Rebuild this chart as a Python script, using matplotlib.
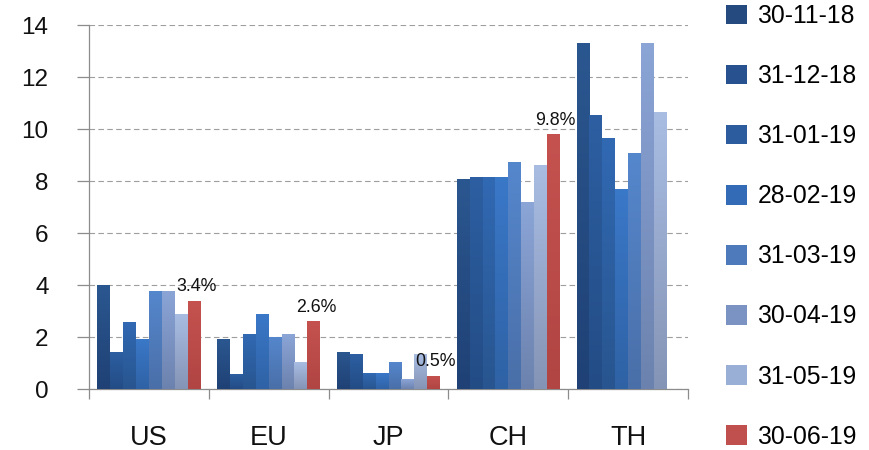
import numpy as np
import matplotlib.pyplot as plt
from matplotlib.colors import LinearSegmentedColormap
from matplotlib.patches import Patch

plt.rcParams['font.family'] = ['Liberation Sans', 'DejaVu Sans']

regions = ['US', 'EU', 'JP', 'CH', 'TH']
dates = ['30-11-18', '31-12-18', '31-01-19', '28-02-19',
         '31-03-19', '30-04-19', '31-05-19', '30-06-19']

s_30_11_18 = [4.00, 1.92, 1.43, 8.08, 13.32]
s_31_12_18 = [1.43, 0.58, 1.35, 8.17, 10.55]
s_31_01_19 = [2.59, 2.10, 0.60, 8.17, 9.65]
s_28_02_19 = [1.92, 2.90, 0.60, 8.17, 7.69]
s_31_03_19 = [3.78, 2.01, 1.03, 8.73, 9.06]
s_30_04_19 = [3.78, 2.10, 0.38, 7.19, 13.32]
s_31_05_19 = [2.90, 1.03, 1.33, 8.63, 10.64]
s_30_06_19 = [3.4, 2.6, 0.5, 9.8, np.nan]

series = [s_30_11_18, s_31_12_18, s_31_01_19, s_28_02_19,
          s_31_03_19, s_30_04_19, s_31_05_19, s_30_06_19]

# (top colour, bottom colour) of each series' vertical gradient fill
shades = [('#2B5790', '#1F4175'),
          ('#2D5FA2', '#234C85'),
          ('#3169B3', '#28558F'),
          ('#3A78C8', '#2F62A5'),
          ('#5587CD', '#4A6FA8'),
          ('#8BA5D7', '#6C82AE'),
          ('#A9BDE3', '#8494B6'),
          ('#C5524F', '#B04543')]
legend_colors = ['#244A80', '#28528F', '#2C5C9E', '#336BB6',
                 '#4E7ABB', '#7A93C2', '#9AAFD6', '#C0504D']

W, H = 869, 450
fig = plt.figure(figsize=(W / 100, H / 100), dpi=100)
ax = fig.add_axes([89 / W, 1 - 389 / H, (688 - 89) / W, (389 - 25) / H])

n = len(series)
width = 0.1075
x = np.arange(len(regions))
grad = np.linspace(0, 1, 256).reshape(-1, 1)

for i, (vals, (top, bot)) in enumerate(zip(series, shades)):
    pos = x + (i - (n - 1) / 2) * width
    bars = ax.bar(pos, vals, width=width, color='none', linewidth=0, zorder=3)
    cmap = LinearSegmentedColormap.from_list(f'g{i}', [bot, top])
    for b, v in zip(bars, vals):
        if np.isnan(v):
            continue
        x0, y0 = b.get_x(), b.get_y()
        im = ax.imshow(grad, extent=[x0, x0 + b.get_width(), y0, y0 + b.get_height()],
                       origin='lower', cmap=cmap, aspect='auto', zorder=3,
                       interpolation='bilinear')
        im.set_clip_path(b)
    if i == n - 1:
        for b, v in zip(bars, vals):
            if np.isnan(v):
                continue
            ax.annotate(f'{v:.1f}%', (b.get_x() + b.get_width() / 2, v),
                        xytext=(1.5, 4), textcoords='offset points',
                        ha='center', va='bottom', fontsize=12.8, color='#111111',
                        zorder=4)

ax.set_xlim(-0.5, len(regions) - 0.5)
ax.set_ylim(0, 14)
ax.set_yticks(np.arange(0, 15, 2))

axis_gray = '#8C8C8C'
ax.yaxis.grid(True, linestyle=(0, (5, 3)), color='#9E9E9E', linewidth=0.8, zorder=0)
ax.set_axisbelow(True)
for side in ('top', 'right'):
    ax.spines[side].set_visible(False)
for side in ('left', 'bottom'):
    ax.spines[side].set_color(axis_gray)
    ax.spines[side].set_linewidth(0.9)

ax.tick_params(axis='y', length=8.6, width=0.9, color=axis_gray, pad=20.5,
               labelsize=17.5, labelcolor='#111111')

# category names at group centres, separator ticks at group boundaries
ax.set_xticks(x)
ax.set_xticklabels(regions)
ax.set_xticks(np.arange(-0.5, len(regions), 1.0), minor=True)
ax.tick_params(axis='x', which='major', length=0, pad=26, labelsize=19.5,
               labelcolor='#111111')
ax.tick_params(axis='x', which='minor', length=7, width=0.9, color=axis_gray,
               direction='out')

handles = [Patch(facecolor=c, edgecolor='none') for c in legend_colors]
fig.legend(handles, dates, loc='upper left', bbox_to_anchor=(726 / W, 1 - 4 / H),
           frameon=False, fontsize=17.8, handlelength=0.85, handleheight=0.85,
           handletextpad=0.42, labelspacing=1.46, borderpad=0, borderaxespad=0)

fig.savefig('out.png', dpi=100)
